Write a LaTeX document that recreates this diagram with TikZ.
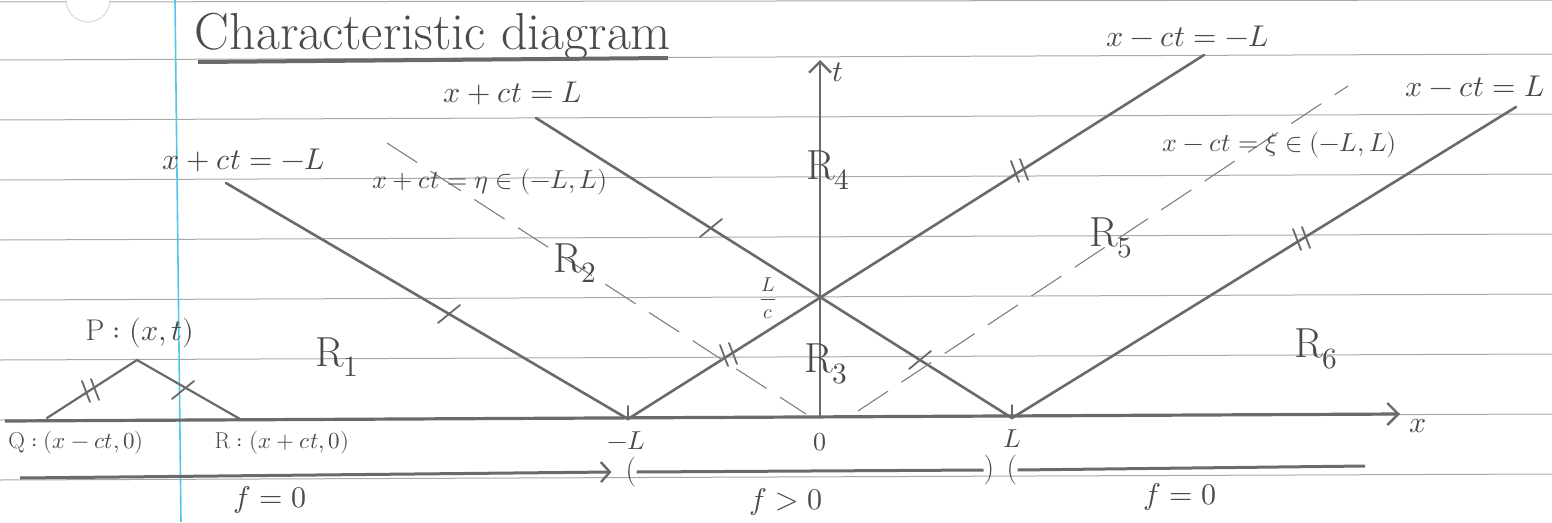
\documentclass[tikz,border=0pt]{standalone}
\usepackage{fontspec}
\usepackage{unicode-math}
\setmathfont{latinmodern-math.otf}
\usetikzlibrary{arrows.meta,calc}
\definecolor{pencil}{HTML}{6A6A6A}
\definecolor{ink}{HTML}{4A4A4A}
\definecolor{ruleline}{HTML}{A8A8A8}
\definecolor{marginblue}{HTML}{55C6EA}
\begin{document}
\begin{tikzpicture}[x=1pt,y=-1pt,
  ruled/.style={draw=ruleline,line width=1pt},
  charline/.style={draw=pencil,line width=2.6pt,line cap=round},
  dashline/.style={draw=pencil!85,line width=1.1pt,dash pattern=on 36pt off 16pt},
  axisline/.style={draw=pencil,line width=3.2pt},
  hatch/.style={draw=pencil,line width=1.8pt,line cap=round},
  lbl/.style={text=ink,inner sep=0pt},
  eqlbl/.style={lbl,font=\fontsize{30}{32}\selectfont},
  midlbl/.style={lbl,font=\fontsize{26}{28}\selectfont},
  smlbl/.style={lbl,font=\fontsize{23}{25}\selectfont},
  reg/.style={lbl,font=\fontsize{42}{44}\selectfont},
  barb/.style={-{Straight Barb[length=11pt,width=22pt,line width=2.4pt]}},
  onetick/.pic={\draw[hatch] (-11,9) -- (11,-9);},
  twotick/.pic={\draw[hatch] (-9,-10) -- (-1,11); \draw[hatch] (0,-12) -- (8,9);}
]
\useasboundingbox (0,0) rectangle (1552,522);
\fill[white] (0,0) rectangle (1552,522);

% paper
\draw[ruled] (0,2) -- (1552,0);
\foreach \k in {1,...,8} \draw[ruled] (0,60*\k) -- (1552,60*\k-6);
\filldraw[fill=white,draw=ruleline!50,line width=0.8pt] (66,0) arc[start angle=180,end angle=0,radius=22];
\draw[draw=marginblue,line width=1.6pt] (175,0) -- (181,522);

% title
\node[lbl,font=\fontsize{52}{56}\selectfont,anchor=base] (title) at (433,49) {Characteristic diagram};
\draw[pencil,line width=4pt] (198,62) -- (668,58);

% key points
\coordinate (O) at (820,418);
\coordinate (mL) at (628,419);
\coordinate (pL) at (1012,418);
\coordinate (Lc) at (820,297);
\coordinate (Aend) at (226,183);
\coordinate (Bend) at (1204,55);
\coordinate (Cend) at (536,118);
\coordinate (Dend) at (1516,107);
\coordinate (xtip) at (1400,414);
\coordinate (ttip) at (820,60);

% axes
\draw[axisline,barb] (5,421) -- (xtip);
\draw[axisline,line width=2.4pt,barb] (O) -- (ttip);
\node[eqlbl] (tlab) at (838,72) {$t$};
\node[eqlbl] (xlab) at (1418,426) {$x$};

% characteristics
\draw[charline] (Aend) -- (mL) -- (Bend);
\draw[charline] (Cend) -- (pL) -- (Dend);
\draw[hatch] (mL) -- ++(0,-13);
\draw[hatch] (pL) -- ++(0,-13);

% dashed characteristics
\coordinate (e1) at (387,143);
\coordinate (e2) at (806,414);
\draw[dashline] (e1) -- (e2);
\coordinate (z1) at (858,411);
\coordinate (z2) at (1348,86);
\draw[dashline] (z1) -- (z2);

% hatch marks
\pic at (449,314) {onetick};
\pic at (711,228) {onetick};
\pic at (920,360) {onetick};
\pic at (729,355) {twotick};
\pic at (1020,171) {twotick};
\pic at (1302,239) {twotick};

% small triangle
\coordinate (Q) at (47,418);
\coordinate (P) at (137,360);
\coordinate (R) at (240,419);
\draw[charline,line width=2.2pt] (Q) -- (P) -- (R);
\pic at (91,391) {twotick};
\pic at (183,390) {onetick};
\node[eqlbl] (Plab) at (140,333) {$\mathrm{P}:(x,t)$};
\node[smlbl] (Qlab) at (76,443) {$\mathrm{Q}:(x-ct,0)$};
\node[smlbl] (Rlab) at (282,443) {$\mathrm{R}:(x+ct,0)$};

% line labels
\node[eqlbl] (lCL) at (513,93) {$x+ct=L$};
\node[eqlbl] (lCmL) at (244,160) {$x+ct=-L$};
\node[midlbl] (leta) at (490,182) {$x+ct=\eta\in(-L,L)$};
\node[eqlbl] (lBmL) at (1188,36) {$x-ct=-L$};
\node[eqlbl] (lDL) at (1475,86) {$x-ct=L$};
\node[midlbl] (lxi) at (1280,145) {$x-ct=\xi\in(-L,L)$};

% regions
\node[reg] (R1) at (337,357) {$\mathrm{R}_1$};
\node[reg] (R2) at (575,263) {$\mathrm{R}_2$};
\node[reg] (R3) at (826,364) {$\mathrm{R}_3$};
\node[reg] (R4) at (828,170) {$\mathrm{R}_4$};
\node[reg] (R5) at (1111,238) {$\mathrm{R}_5$};
\node[reg] (R6) at (1316,349) {$\mathrm{R}_6$};
\node[lbl,font=\fontsize{20}{22}\selectfont] (Lcl) at (768,298) {${\displaystyle\frac{L}{c}}$};

% x-axis ticks labels
\node[midlbl] (mLl) at (626,441) {$-L$};
\node[midlbl] (Ol) at (820,442) {$0$};
\node[midlbl] (pLl) at (1012,439) {$L$};

% intervals of f
\node[lbl,font=\fontsize{30}{32}\selectfont] (lp1) at (631,472) {(};
\node[lbl,font=\fontsize{30}{32}\selectfont] (rp1) at (989,470) {)};
\node[lbl,font=\fontsize{30}{32}\selectfont] (lp2) at (1012,470) {(};
\coordinate (fend) at (1365,466);
\coordinate (fstart) at (20,478);
\draw[axisline,line width=3pt,-{Straight Barb[length=9pt,width=20pt,line width=2.4pt]}] (fstart) -- ($(lp1.west)+(-14,0)$);
\draw[axisline,line width=3pt] (lp1.east) -- (rp1.west);
\draw[axisline,line width=3pt] (lp2.east) -- (fend);
\node[eqlbl] (f1) at (270,500) {$f=0$};
\node[eqlbl] (f2) at (786,502) {$f>0$};
\node[eqlbl] (f3) at (1180,497) {$f=0$};
\end{tikzpicture}
\end{document}
